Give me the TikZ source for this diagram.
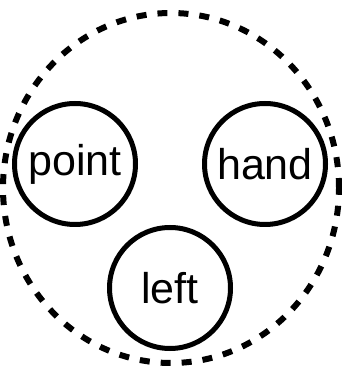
\documentclass[tikz,border=0pt]{standalone}
\usepackage{fontspec}
\setmainfont{Liberation Sans}
\begin{document}
\begin{tikzpicture}[x=1pt,y=1pt,
  ring/.style={draw=black,line width=5pt,circle,minimum size=121pt,inner sep=0pt,font=\fontsize{43}{46}\selectfont},
  outer/.style={draw=black,line width=6pt,dash pattern=on 10pt off 11pt}]
\useasboundingbox[fill=white] (0,0) rectangle (341,366);
\draw[outer] (171,178) ellipse [x radius=168, y radius=175];
\node[ring] (point) at (75,202) {point};
\node[ring] (hand) at (265,202) {hand};
\node[ring] (left) at (170,78) {left};
\end{tikzpicture}
\end{document}
